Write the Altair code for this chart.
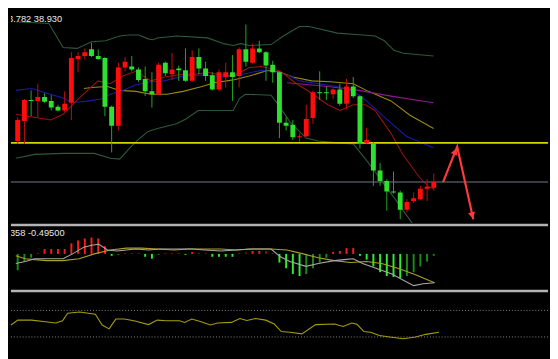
import altair as alt
import pandas as pd

# ---------------- price panel (candles) ----------------
opens = [38.65, 38.86, 39.08, 39.07, 39.11, 39.07, 39.01, 38.97, 39.05, 39.51,
         39.54, 39.61, 39.54, 39.52, 39.01, 38.81, 39.42, 39.43, 39.40, 39.30,
         39.17, 39.14, 39.47, 39.35, 39.41, 39.39, 39.28, 39.53, 39.41, 39.34,
         39.19, 39.32, 39.37, 39.33, 39.61, 39.47, 39.62, 39.58, 39.45, 39.37,
         38.84, 38.82, 38.69, 38.70, 38.89, 39.16, 39.16, 39.14, 39.19, 39.04,
         39.22, 39.12, 38.63, 38.63, 38.34, 38.23, 38.12, 38.11, 37.93, 38.02,
         38.04, 38.15, 38.16]
closes = [38.87, 39.08, 39.07, 39.11, 39.06, 39.00, 38.97, 39.04, 39.52, 39.54,
          39.58, 39.54, 39.51, 39.01, 38.81, 39.42, 39.48, 39.40, 39.29, 39.17,
          39.14, 39.45, 39.36, 39.40, 39.39, 39.28, 39.53, 39.41, 39.33, 39.19,
          39.37, 39.37, 39.32, 39.61, 39.48, 39.62, 39.58, 39.44, 39.37, 38.84,
          38.81, 38.69, 38.70, 38.88, 39.16, 39.15, 39.15, 39.19, 39.04, 39.22,
          39.12, 38.63, 38.66, 38.34, 38.23, 38.12, 38.11, 37.93, 38.01, 38.05,
          38.15, 38.17, 38.22]
highs = [38.90, 39.09, 39.18, 39.25, 39.15, 39.13, 39.03, 39.17, 39.58, 39.58,
         39.62, 39.68, 39.61, 39.53, 39.02, 39.47, 39.53, 39.54, 39.42, 39.43,
         39.37, 39.47, 39.48, 39.57, 39.44, 39.62, 39.60, 39.62, 39.48, 39.37,
         39.40, 39.47, 39.55, 39.63, 39.87, 39.67, 39.70, 39.59, 39.49, 39.38,
         38.90, 38.87, 38.73, 39.03, 39.18, 39.38, 39.22, 39.20, 39.25, 39.30,
         39.32, 39.13, 38.79, 38.64, 38.42, 38.25, 38.33, 38.13, 38.04, 38.11,
         38.18, 38.25, 38.31]
lows = [38.62, 38.62, 38.91, 38.90, 39.05, 38.97, 38.96, 38.95, 38.87, 39.37,
        39.50, 39.53, 39.50, 38.91, 38.53, 38.76, 39.38, 39.38, 39.27, 39.12,
        39.00, 39.13, 39.33, 39.29, 39.28, 39.27, 39.27, 39.35, 39.28, 39.18,
        39.17, 39.21, 39.07, 39.21, 39.43, 39.46, 39.57, 39.28, 39.26, 38.68,
        38.76, 38.66, 38.64, 38.69, 38.83, 39.08, 39.08, 39.09, 39.02, 38.98,
        39.10, 38.57, 38.62, 38.18, 38.18, 37.92, 38.10, 37.83, 37.90, 38.00,
        38.03, 38.02, 38.13]

# Bollinger bands
bb_up_x = [-0.28, 4.65, 6.76, 8.87, 10.99, 13.1, 15.21, 16.62, 18.03, 19.44,
           20.14, 20.85, 23.66, 28.31, 30.7, 32.11, 33.24, 34.51, 37.75, 39.58,
           41.97, 43.38, 45.21, 47.61, 51.41, 53.24, 54.65, 56.06, 57.46, 61.97]
bb_up_v = [39.90, 39.88, 39.63, 39.62, 39.69, 39.70, 39.75, 39.76, 39.76, 39.72,
           39.71, 39.73, 39.75, 39.73, 39.67, 39.65, 39.67, 39.65, 39.66, 39.75,
           39.85, 39.85, 39.82, 39.78, 39.76, 39.75, 39.70, 39.60, 39.57, 39.54]
bb_lo_x = [-0.28, 2.54, 6.76, 11.41, 13.8, 15.21, 16.62, 18.03, 19.44, 20.85,
           23.66, 25.07, 26.9, 29.3, 32.11, 33.1, 33.94, 37.75, 39.15, 40.56,
           41.97, 42.96, 44.79, 47.61, 50.0, 51.83, 53.24, 54.65, 56.06, 57.46,
           58.87, 61.97]
bb_lo_v = [38.47, 38.51, 38.52, 38.52, 38.47, 38.46, 38.57, 38.67, 38.75, 38.78,
           38.83, 38.88, 38.97, 38.97, 38.97, 39.10, 39.14, 39.13, 39.00, 38.85,
           38.75, 38.68, 38.65, 38.63, 38.62, 38.46, 38.33, 38.19, 38.06, 37.92,
           37.78, 37.49]

# moving averages
ma_red_x = [-0.28, 4.93, 6.76, 9.15, 11.97, 13.8, 15.63, 17.61, 19.86, 21.83,
            24.65, 26.48, 28.31, 29.72, 32.11, 34.51, 36.34, 37.75, 39.15, 41.55,
            43.8, 46.2, 48.03, 50.0, 51.83, 53.24, 55.63, 57.46, 59.86, 61.27, 61.97]
ma_red_v = [38.93, 38.87, 38.93, 39.10, 39.28, 39.25, 39.33, 39.38, 39.28, 39.32,
            39.35, 39.35, 39.37, 39.35, 39.33, 39.42, 39.43, 39.41, 39.38, 39.25,
            39.15, 39.03, 38.97, 39.03, 39.03, 38.97, 38.73, 38.50, 38.27, 38.17, 38.15]
ma_blue_x = [-0.28, 2.11, 4.37, 6.76, 8.17, 10.56, 12.39, 13.8, 15.63, 17.61,
             19.86, 21.83, 24.08, 26.06, 27.89, 31.13, 33.52, 36.34, 38.73, 40.56,
             41.97, 44.79, 47.61, 50.0, 51.83, 54.65, 57.89, 60.28, 61.97]
ma_blue_v = [39.18, 39.20, 39.15, 39.10, 39.05, 39.07, 39.09, 39.14, 39.18, 39.24,
             39.27, 39.28, 39.32, 39.34, 39.34, 39.32, 39.35, 39.39, 39.37, 39.33,
             39.28, 39.25, 39.22, 39.17, 39.08, 38.90, 38.70, 38.63, 38.58]
ma_olive_x = [9.86, 10.99, 13.38, 15.21, 17.61, 19.86, 22.25, 24.65, 27.46, 29.3,
              32.11, 34.51, 37.32, 39.15, 40.99, 43.8, 46.62, 50.0, 52.25, 55.63,
              58.45, 61.97]
ma_olive_v = [39.20, 39.21, 39.22, 39.18, 39.17, 39.14, 39.14, 39.17, 39.22, 39.26,
              39.29, 39.33, 39.39, 39.37, 39.32, 39.28, 39.27, 39.25, 39.17, 39.07,
              38.92, 38.78]
ma_purple_x = [40.14, 46.2, 50.85, 55.63, 61.97]
ma_purple_v = [39.26, 39.22, 39.18, 39.12, 39.05]

level_values = [38.63, 38.22]
level_names = ["yellow", "grey"]

arrow_x = [63.38, 65.49, 67.89]
arrow_v = [38.22, 38.59, 37.83]
head_x = [65.21, 67.73]
head_v = [38.54, 37.87]
head_angle = [22.6, 167.2]

price_label = "3.782 38.930"

# ---------------- MACD panel ----------------
hist = [-0.17, -0.08, -0.04, 0.01, 0.05, 0.05, 0.05, 0.05, 0.11, 0.14,
        0.16, 0.17, 0.16, 0.08, -0.02, -0.01, 0.01, 0.01, 0.01, -0.03,
        -0.05, -0.01, 0.01, 0.01, 0.01, -0.01, 0.02, 0.01, 0.01, -0.03,
        -0.03, -0.03, -0.03, 0.01, 0.015, 0.03, 0.03, 0.03, 0.01, -0.09,
        -0.15, -0.21, -0.23, -0.21, -0.15, -0.09, -0.04, 0.02, 0.03, 0.06,
        0.06, -0.02, -0.06, -0.13, -0.19, -0.23, -0.24, -0.25, -0.23, -0.19,
        -0.13, -0.08, -0.02]
hist_kind = (["gd"] * 3 + ["rd"] + ["ru"] * 10 + ["gu"] + ["gd"] + ["rd"] * 3 +
             ["gu"] * 2 + ["gd"] + ["rd"] * 3 + ["gu"] + ["ru"] + ["rd"] * 2 +
             ["gu"] * 4 + ["rd"] * 2 + ["ru"] * 2 + ["rd"] * 2 + ["gu"] * 4 +
             ["gd"] * 4 + ["ru"] * 4 + ["gu"] * 7 + ["gd"] * 5)
macd_gray_x = [-0.28, 1.13, 2.54, 4.37, 6.76, 8.17, 9.86, 10.99, 12.11, 13.38,
               14.79, 17.61, 19.44, 21.27, 24.08, 26.06, 27.89, 30.28, 32.54, 34.51,
               37.75, 39.15, 40.56, 42.96, 44.79, 47.18, 48.59, 50.0, 51.41, 53.38,
               55.77, 57.61, 59.01, 60.42, 62.11]
macd_gray_v = [-0.10, -0.08, -0.05, -0.05, -0.05, 0.0, 0.07, 0.09, 0.10, 0.04,
               0.03, 0.05, 0.04, 0.05, 0.05, 0.05, 0.04, 0.03, 0.04, 0.05,
               0.05, -0.03, -0.08, -0.13, -0.10, -0.07, -0.06, -0.05, -0.10, -0.15,
               -0.21, -0.28, -0.33, -0.31, -0.30]
macd_olive_x = [-0.28, 1.13, 2.54, 4.37, 6.76, 9.15, 11.41, 13.8, 16.2, 18.45,
                20.85, 23.24, 25.49, 27.89, 30.28, 32.54, 34.93, 37.75, 40.14, 42.54,
                44.79, 47.18, 49.58, 51.97, 54.23, 56.62, 59.01, 62.11]
macd_olive_v = [-0.02, -0.05, -0.06, -0.07, -0.07, -0.05, 0.0, 0.04, 0.06, 0.06,
                0.05, 0.04, 0.05, 0.05, 0.05, 0.04, 0.05, 0.05, 0.04, 0.0,
                -0.04, -0.07, -0.09, -0.08, -0.10, -0.15, -0.21, -0.30]
macd_label = "358 -0.49500"

# ---------------- oscillator panel ----------------
osc_x = [-0.28, 0.73, 2.75, 4.76, 6.27, 7.27, 8.03, 9.79, 12.06, 13.07,
         14.08, 15.07, 16.34, 17.86, 19.86, 21.13, 22.39, 24.37, 25.15, 26.17,
         27.42, 28.93, 29.94, 31.97, 33.21, 34.23, 35.49, 37.0, 38.25, 39.27,
         40.52, 42.28, 44.30, 47.07, 48.31, 49.58, 50.35, 51.35, 52.35, 53.62,
         55.13, 57.14, 58.92, 60.42, 62.34]
osc_v = [48.0, 55.3, 55.3, 52.9, 50.9, 54.3, 65.7, 67.6, 64.1, 48.0,
         42.1, 56.9, 56.9, 53.9, 48.6, 55.3, 54.3, 54.3, 51.9, 56.9,
         53.4, 48.0, 50.9, 51.9, 57.7, 54.9, 57.7, 55.3, 49.4, 38.1,
         37.1, 34.7, 48.6, 49.4, 45.7, 50.9, 49.0, 38.1, 37.1, 32.3,
         30.0, 27.4, 30.0, 33.9, 37.1]
osc_levels = [70, 30]

# ---------------- styling maps ----------------
LINE_COLORS = {"bbu": "#2c5a3c", "bbl": "#2c5a3c", "olive": "#9a8a10",
               "purple": "#8a1a8a", "blue": "#1a1aa8", "red": "#9a1010",
               "sig": "#aaa028", "main": "#a8a8a8"}
LEVEL_COLORS = {"yellow": "#d6d200", "grey": "#4a505c"}
WICK_COLORS = {"up": "#c80c0c", "down": "#22aa22"}
BODY_COLORS = {"up": "#ff0c0c", "down": "#30e030"}
HIST_COLORS = {"ru": "#ff1a1a", "rd": "#8e0a0a", "gu": "#2aee2a", "gd": "#178a17"}

# ---------------- build ----------------
W = 550
H_TOP, H_MID, H_BOT = 216, 67, 68
xs = alt.Scale(domain=[-0.28, 78.3], nice=False, zero=False)
X = alt.X("i:Q", scale=xs, axis=None)


def sdf(name, xv, vv):
    d = pd.DataFrame({"i": xv, "v": vv, "s": name})
    d["col"] = LINE_COLORS.get(name, "#a49c10")
    return d


candles = pd.DataFrame({"i": list(range(len(opens))), "open": opens, "close": closes,
                        "high": highs, "low": lows})
candles["dir"] = ["up" if c >= o else "down" for o, c in zip(opens, closes)]
candles["wcol"] = candles["dir"].map(WICK_COLORS)
candles["bcol"] = candles["dir"].map(BODY_COLORS)

top_lines = pd.concat([
    sdf("bbu", bb_up_x, bb_up_v), sdf("bbl", bb_lo_x, bb_lo_v),
    sdf("olive", ma_olive_x, ma_olive_v), sdf("purple", ma_purple_x, ma_purple_v),
    sdf("blue", ma_blue_x, ma_blue_v), sdf("red", ma_red_x, ma_red_v),
])
ys_top = alt.Scale(domain=[37.79, 40.0], nice=False, zero=False)
Ytop = alt.Y("v:Q", scale=ys_top, axis=None)

lines_top = alt.Chart(top_lines).mark_line(strokeWidth=1.1, clip=True).encode(
    x=X, y=Ytop, detail="s:N", color=alt.Color("col:N", scale=None),
)
lev_df = pd.DataFrame({"v": level_values, "s": level_names})
lev_df["col"] = lev_df["s"].map(LEVEL_COLORS)
levels = alt.Chart(lev_df).mark_rule(strokeWidth=1.6).encode(
    y=Ytop, color=alt.Color("col:N", scale=None))
wicks = alt.Chart(candles).mark_rule(strokeWidth=1, clip=True).encode(
    x=X, y=alt.Y("low:Q", scale=ys_top, axis=None), y2="high:Q",
    color=alt.Color("wcol:N", scale=None))
bodies = alt.Chart(candles).mark_bar(size=5, clip=True).encode(
    x=X, y=alt.Y("open:Q", scale=ys_top, axis=None), y2="close:Q",
    color=alt.Color("bcol:N", scale=None))
arrow = alt.Chart(pd.DataFrame({"i": arrow_x, "v": arrow_v})).mark_line(
    color="#ff3a3a", strokeWidth=2.2, clip=True).encode(x=X, y=Ytop)
heads = alt.Chart(pd.DataFrame({"i": head_x, "v": head_v, "a": head_angle})).mark_point(
    shape="triangle-up", filled=True, size=55, color="#ff3a3a", opacity=1).encode(
    x=X, y=Ytop, angle=alt.Angle("a:Q", scale=None))
top_text = alt.Chart(pd.DataFrame({"t": [price_label]})).mark_text(
    align="left", baseline="middle", fontSize=9.5, font="Liberation Sans",
    color="#e8e8e8", clip=True).encode(x=alt.value(-3), y=alt.value(7), text="t:N")

top = alt.layer(lines_top, levels, wicks, bodies, arrow, heads, top_text).properties(
    width=W, height=H_TOP)

# MACD
ys_mid = alt.Scale(domain=[-0.37, 0.31], nice=False, zero=False)
hist_df = pd.DataFrame({"i": list(range(len(hist))), "h": hist, "k": hist_kind})
hist_df["col"] = hist_df["k"].map(HIST_COLORS)
hbars = alt.Chart(hist_df).mark_bar(size=2).encode(
    x=X, y=alt.Y("h:Q", scale=ys_mid, axis=None), y2=alt.datum(0),
    color=alt.Color("col:N", scale=None))
mid_lines = pd.concat([sdf("sig", macd_olive_x, macd_olive_v),
                       sdf("main", macd_gray_x, macd_gray_v)])
mlines = alt.Chart(mid_lines).mark_line(strokeWidth=1.1, clip=True).encode(
    x=X, y=alt.Y("v:Q", scale=ys_mid, axis=None), detail="s:N",
    color=alt.Color("col:N", scale=None))
sep_df = pd.DataFrame({"k": ["sep"]})
sep_mid = alt.Chart(sep_df).mark_rule(color="#b4b4b4", strokeWidth=2.5).encode(
    x=alt.value(0), x2=alt.value(W), y=alt.value(1))
mid_text = alt.Chart(pd.DataFrame({"t": [macd_label]})).mark_text(
    align="left", baseline="middle", fontSize=9.5, font="Liberation Sans",
    color="#e8e8e8", clip=True).encode(x=alt.value(-1), y=alt.value(9), text="t:N")
mid = alt.layer(hbars, mlines, sep_mid, mid_text).properties(width=W, height=H_MID)

# oscillator
ys_bot = alt.Scale(domain=[0, 100], nice=False, zero=False)
dots = alt.Chart(pd.DataFrame({"v": osc_levels})).mark_rule(
    color="#8a8a8a", strokeWidth=1, strokeDash=[1, 2]).encode(
    y=alt.Y("v:Q", scale=ys_bot, axis=None))
oline = alt.Chart(sdf("osc", osc_x, osc_v)).mark_line(
    color="#a49c10", strokeWidth=1.1).encode(x=X, y=alt.Y("v:Q", scale=ys_bot, axis=None))
sep_bot = alt.Chart(sep_df).mark_rule(color="#b4b4b4", strokeWidth=2.5).encode(
    x=alt.value(0), x2=alt.value(W), y=alt.value(0.5))
bot = alt.layer(dots, oline, sep_bot).properties(width=W, height=H_BOT)

chart = alt.vconcat(top, mid, bot, spacing=0).properties(
    padding=0, background="black").configure_view(stroke=None)

chart.save("out.html", embed_options={"renderer": "svg", "actions": False})
